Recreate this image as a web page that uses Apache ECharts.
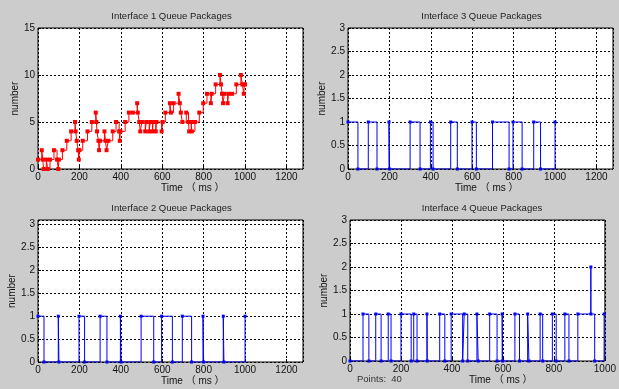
<!DOCTYPE html>
<html>
<head>
<meta charset="utf-8">
<script src="https://cdn.jsdelivr.net/npm/echarts@6/dist/echarts.min.js"></script>
<style>
  html, body { margin: 0; padding: 0; background: #cccccc; }
  #chart { width: 619px; height: 389px; }
</style>
</head>
<body>
<div id="chart"></div>
<script>
// queue length samples (time in ms, number of packages)
var if1Time = [0, 18, 23, 27, 40, 47, 58, 77, 92, 98, 101, 118, 139, 160, 179, 182, 187, 194, 197, 200,
  216, 239, 260, 279, 282, 285, 292, 295, 300, 321, 326, 331, 340, 361, 377, 392, 395, 398, 421, 439,
  458, 479, 482, 489, 494, 502, 518, 523, 537, 542, 553, 556, 569, 572, 597, 602, 615, 637, 642, 655,
  679, 685, 690, 697, 716, 727, 730, 740, 743, 758, 779, 798, 816, 835, 839, 858, 879, 884, 889, 894,
  900, 916, 920, 937, 958, 980, 987, 994, 997, 1000]
var if1Count = [1, 2, 1, 0, 1, 0, 1, 2, 1, 0, 1, 2, 3, 4, 5, 4, 3, 2, 1, 2,
  3, 4, 5, 6, 5, 4, 3, 2, 3, 4, 3, 2, 3, 4, 5, 4, 3, 4, 5, 6,
  6, 7, 6, 5, 4, 5, 4, 5, 4, 5, 4, 5, 4, 5, 4, 5, 6, 7, 6, 7,
  8, 7, 6, 5, 6, 5, 4, 5, 4, 5, 6, 7, 8, 7, 8, 9, 10, 9, 8, 7,
  8, 7, 8, 8, 9, 10, 9, 8, 9, 9]

var if2Time = [0, 29, 98, 101, 198, 225, 300, 333, 398, 401, 498, 559, 597, 649, 697, 742, 797, 800, 895, 898, 1000]
var if2Count = [1, 0, 1, 0, 1, 0, 1, 0, 1, 0, 1, 0, 1, 0, 1, 0, 1, 0, 1, 0, 1]

var if3Time = [0, 48, 98, 140, 198, 201, 300, 348, 398, 411, 496, 528, 599, 620, 698, 778, 797, 841, 897, 930, 1000]
var if3Count = [1, 0, 1, 0, 1, 0, 1, 0, 1, 0, 1, 0, 1, 0, 1, 0, 1, 0, 1, 0, 1]

var if4Time = [0, 51, 74, 101, 122, 150, 161, 200, 240, 250, 263, 302, 303, 352, 372, 397, 442, 448, 462, 498,
  503, 548, 577, 597, 599, 647, 665, 697, 702, 746, 756, 794, 809, 843, 859, 894, 945, 945, 960, 997]
var if4Count = [0, 1, 0, 1, 0, 1, 0, 1, 0, 1, 0, 1, 0, 1, 0, 1, 0, 1, 0, 1,
  0, 1, 0, 1, 0, 1, 0, 1, 0, 1, 0, 1, 0, 1, 0, 1, 2, 1, 0, 1]

var font = '"Liberation Sans", Arial, "Noto Sans CJK SC", sans-serif'

var panels = [
  { title: 'Interface 1 Queue Packages', time: if1Time, count: if1Count, color: '#ff0000', dot: 4,
    xMax: 1280, yMax: 15, yStep: 5, box: { left: 38, top: 28, width: 265, height: 141 }, labelX: 189 },
  { title: 'Interface 3 Queue Packages', time: if3Time, count: if3Count, color: '#0000ff', dot: 3,
    xMax: 1280, yMax: 3, yStep: 0.5, box: { left: 348, top: 28, width: 265, height: 141 }, labelX: 483 },
  { title: 'Interface 2 Queue Packages', time: if2Time, count: if2Count, color: '#0000ff', dot: 3,
    xMax: 1280, yMax: 3.1, yStep: 0.5, box: { left: 38, top: 220, width: 265, height: 142 }, labelX: 189 },
  { title: 'Interface 4 Queue Packages', time: if4Time, count: if4Count, color: '#0000ff', dot: 3,
    xMax: 1000, yMax: 3, yStep: 0.5, box: { left: 350, top: 220, width: 262, height: 141 }, labelX: 497 },
]

function plain(v) {
  return String(v)
}

var option = {
  backgroundColor: '#cccccc',
  animation: false,
  textStyle: { fontFamily: font },
  title: [],
  grid: [],
  xAxis: [],
  yAxis: [],
  series: [],
  graphic: [],
}

panels.forEach(function (p, i) {
  var b = p.box
  option.title.push({
    text: p.title,
    left: b.left + b.width / 2 + 1,
    top: b.top - 16,
    textAlign: 'center',
    padding: 0,
    textStyle: { fontSize: 9.5, fontWeight: 'normal', color: '#222', fontFamily: font },
  })
  option.grid.push({
    left: b.left, top: b.top, width: b.width, height: b.height,
    show: true, backgroundColor: '#ffffff', borderColor: '#000', borderWidth: 1,
  })
  option.xAxis.push({
    type: 'value',
    gridIndex: i,
    min: 0,
    max: p.xMax,
    interval: 200,
    axisLine: { show: false },
    axisTick: { inside: true, length: 3, lineStyle: { color: '#000' } },
    axisLabel: { color: '#111', fontSize: 10, margin: 3, formatter: plain, showMaxLabel: p.xMax % 200 === 0 },
    splitLine: { lineStyle: { color: '#000', type: [2, 2], width: 1 } },
  })
  option.yAxis.push({
    type: 'value',
    gridIndex: i,
    min: 0,
    max: p.yMax,
    interval: p.yStep,
    name: 'number',
    nameLocation: 'middle',
    nameGap: 18,
    nameTextStyle: { color: '#111', fontSize: 10 },
    axisLine: { show: false },
    axisTick: { inside: true, length: 3, lineStyle: { color: '#000' } },
    axisLabel: { color: '#111', fontSize: 10, margin: 3, formatter: plain,
      showMaxLabel: Math.abs(p.yMax / p.yStep - Math.round(p.yMax / p.yStep)) < 1e-9 },
    splitLine: { lineStyle: { color: '#000', type: [2, 2], width: 1 } },
  })
  option.series.push({
    type: 'line',
    step: 'end',
    xAxisIndex: i,
    yAxisIndex: i,
    data: p.time.map(function (t, k) { return [t, p.count[k]] }),
    symbol: 'rect',
    symbolSize: p.dot,
    showAllSymbol: true,
    lineStyle: { color: p.color, width: 1 },
    itemStyle: { color: p.color },
  })
  option.graphic.push({
    type: 'text',
    left: p.labelX - 28,
    top: b.top + b.height + 14,
    style: { text: 'Time （ ms ）', fontSize: 10, fill: '#111', fontFamily: font },
  })
})

option.graphic.push({
  type: 'text',
  left: 357,
  top: 375,
  style: { text: 'Points:  40', fontSize: 9.5, fill: '#333', fontFamily: font },
})

var chart = echarts.init(document.getElementById('chart'))
chart.setOption(option)
</script>
</body>
</html>
